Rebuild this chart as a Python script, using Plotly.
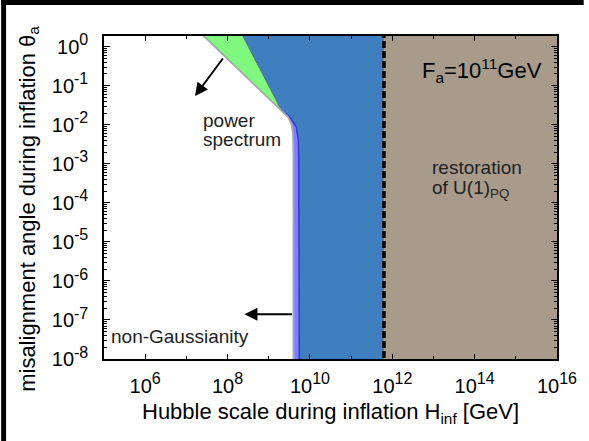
import numpy as np
import plotly.graph_objects as go

# ---------------- data ----------------
# power-spectrum / non-Gaussianity boundary (grey line)
ps_H = [1.58e7, 2.04e9, 2.95e9, 3.55e9, 3.89e9, 3.98e9, 3.98e9]
ps_theta = [3.16, 0.0234, 0.0158, 0.0107, 0.0059, 0.0018, 1e-9]
# right edge of the green wedge
green_H = [1.82e8, 2.04e9]
green_theta = [3.16, 0.0234]
# right edge of the purple band
purple_H = [2.04e9, 3.24e9, 4.68e9, 5.25e9, 5.37e9, 5.56e9]
purple_theta = [0.0234, 0.0158, 0.0087, 0.0040, 0.0012, 1e-9]
# PQ restoration H_inf = 2 pi F_a
H_PQ = 6.28e11
H_max = 1e17
theta_top = 3.16
theta_bottom = 1e-9

# arrow heads (data coords)
arrow_ps_head = (1.62e7, 0.0546)
arrow_ng_head = (2.57e8, 1.4e-7)

x_tickvals = [1e6, 1e8, 1e10, 1e12, 1e14, 1e16]
x_tickexp = ["6", "8", "10", "12", "14", "16"]
x_minorvals = [1e5, 1e7, 1e9, 1e11, 1e13, 1e15]
y_tickvals = [1, 1e-1, 1e-2, 1e-3, 1e-4, 1e-5, 1e-6, 1e-7, 1e-8]
y_tickexp = ["0", "-1", "-2", "-3", "-4", "-5", "-6", "-7", "-8"]

# ---------------- colours ----------------
C_BLUE = "#3f7ebf"
C_BROWN = "#a89b8b"
C_GREEN = "#80f880"
C_PURPLE = "#8080ff"
C_DBLUE = "#3535d8"
C_GREY = "#a8a8a8"
C_DGREEN = "#4a7a4a"
FONT = "Liberation Sans, Arial, Helvetica, sans-serif"

W, H = 589, 441
ML, MR, MT, MB = 104, 27, 36, 82
PW, PH = W - ML - MR, H - MT - MB


def px(xp):
    return (xp - ML) / PW


def py(yp):
    return (H - MB - yp) / PH


def pow_label(e):
    return "10<sup><span style='font-size:16px'>" + e + "</span></sup>"


fig = go.Figure()

# brown region
fig.add_trace(go.Scatter(x=[H_PQ, H_max, H_max, H_PQ], y=[theta_bottom, theta_bottom, theta_top, theta_top],
                         fill="toself", fillcolor=C_BROWN, line=dict(width=0), mode="lines",
                         hoverinfo="skip", showlegend=False))
# blue region
bx = [green_H[0]] + ps_H[1:] + [H_PQ, H_PQ]
by = [green_theta[0]] + ps_theta[1:] + [theta_bottom, theta_top]
fig.add_trace(go.Scatter(x=bx, y=by, fill="toself", fillcolor=C_BLUE, line=dict(width=0),
                         mode="lines", hoverinfo="skip", showlegend=False))
# purple band
pxs = ps_H[1:] + purple_H[::-1]
pys = ps_theta[1:] + purple_theta[::-1]
fig.add_trace(go.Scatter(x=pxs, y=pys, fill="toself", fillcolor=C_PURPLE, line=dict(width=0),
                         mode="lines", hoverinfo="skip", showlegend=False))
# green wedge
gx = ps_H[:2] + green_H[::-1]
gy = ps_theta[:2] + green_theta[::-1]
fig.add_trace(go.Scatter(x=gx, y=gy, fill="toself", fillcolor=C_GREEN, line=dict(width=0),
                         mode="lines", hoverinfo="skip", showlegend=False))
# boundary lines
fig.add_trace(go.Scatter(x=green_H, y=green_theta, mode="lines", line=dict(color=C_DGREEN, width=1),
                         hoverinfo="skip", showlegend=False))
fig.add_trace(go.Scatter(x=purple_H, y=purple_theta, mode="lines", line=dict(color=C_DBLUE, width=1.5),
                         hoverinfo="skip", showlegend=False))
fig.add_trace(go.Scatter(x=ps_H, y=ps_theta, mode="lines", line=dict(color=C_GREY, width=1.8),
                         hoverinfo="skip", showlegend=False))
fig.add_trace(go.Scatter(x=[H_PQ, H_PQ], y=[theta_bottom, theta_top], mode="lines",
                         line=dict(color="black", width=3.5, dash="7px,3px"),
                         hoverinfo="skip", showlegend=False))

axis_common = dict(type="log", showgrid=False, zeroline=False, showline=True, linecolor="black",
                   linewidth=1.5, mirror="allticks", ticks="inside", tickcolor="black", tickwidth=1,
                   tickfont=dict(family=FONT, size=20, color="black"))

fig.update_xaxes(range=[5, 16], tickmode="array", tickvals=x_tickvals,
                 ticktext=[pow_label(e) for e in x_tickexp],
                 ticklen=5, ticklabelstandoff=8,
                 minor=dict(tickmode="array", tickvals=x_minorvals, ticks="inside", ticklen=3,
                            tickcolor="black", showgrid=False),
                 **axis_common)
fig.update_yaxes(range=[-8, 0.274], tickmode="array", tickvals=y_tickvals,
                 ticktext=[pow_label(e) for e in y_tickexp],
                 ticklen=6, ticklabelstandoff=10,
                 minor=dict(dtick="D1", ticks="inside", ticklen=3, tickcolor="black", showgrid=False),
                 **axis_common)

ann = []
# arrows
ann.append(dict(x=np.log10(arrow_ps_head[0]), y=np.log10(arrow_ps_head[1]), xref="x", yref="y", text="",
                showarrow=True, arrowhead=2, arrowsize=1.3, arrowwidth=2, arrowcolor="black",
                ax=29, ay=-39))
ann.append(dict(x=np.log10(arrow_ng_head[0]), y=np.log10(arrow_ng_head[1]), xref="x", yref="y", text="",
                showarrow=True, arrowhead=2, arrowsize=1.3, arrowwidth=2, arrowcolor="black",
                ax=49, ay=0))
tf = dict(family=FONT, size=19, color="#222222")
ann.append(dict(x=px(202), y=py(120), xref="paper", yref="paper", text="power", showarrow=False,
                xanchor="left", yanchor="middle", font=tf))
ann.append(dict(x=px(202), y=py(139), xref="paper", yref="paper", text="spectrum", showarrow=False,
                xanchor="left", yanchor="middle", font=tf))
ann.append(dict(x=px(434), y=py(168), xref="paper", yref="paper", text="restoration", showarrow=False,
                xanchor="left", yanchor="middle", font=tf))
ann.append(dict(x=px(434), y=py(189), xref="paper", yref="paper", text="of U(1)<sub>PQ</sub>",
                showarrow=False, xanchor="left", yanchor="middle", font=tf))
ann.append(dict(x=px(109), y=py(336), xref="paper", yref="paper", text="non-Gaussianity",
                showarrow=False, xanchor="left", yanchor="middle", font=tf))
ann.append(dict(x=px(423), y=py(70), xref="paper", yref="paper", text="F<sub>a</sub>=10<sup>11</sup>GeV",
                showarrow=False, xanchor="left", yanchor="middle",
                font=dict(family=FONT, size=22, color="black")))
# axis titles
ann.append(dict(x=0.5, y=py(413), xref="paper", yref="paper",
                text="Hubble scale during inflation H<sub>inf</sub> [GeV]", showarrow=False,
                xanchor="center", yanchor="middle", font=dict(family=FONT, size=22, color="black")))
ann.append(dict(x=px(28), y=py(209), xref="paper", yref="paper",
                text="misalignment angle during inflation θ<sub>a</sub>", showarrow=False,
                textangle=-90, xanchor="center", yanchor="middle",
                font=dict(family=FONT, size=22, color="black")))

shapes = [
    dict(type="rect", xref="paper", yref="paper", x0=px(0), x1=px(5), y0=py(441), y1=py(0),
         fillcolor="black", line=dict(width=0), layer="above"),
    dict(type="rect", xref="paper", yref="paper", x0=px(0), x1=px(589), y0=py(5), y1=py(0),
         fillcolor="black", line=dict(width=0), layer="above"),
]

fig.update_layout(width=W, height=H, autosize=False,
                  margin=dict(l=ML, r=MR, t=MT, b=MB, pad=0),
                  paper_bgcolor="white", plot_bgcolor="white",
                  annotations=ann, shapes=shapes, showlegend=False,
                  font=dict(family=FONT))

fig.write_html("out.html")
